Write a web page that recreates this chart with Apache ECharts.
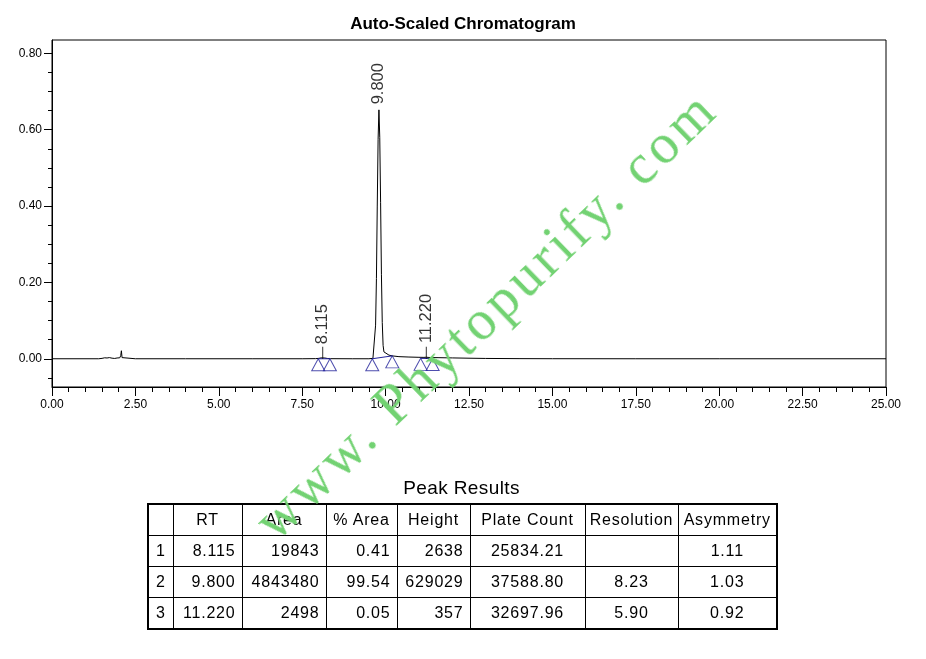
<!DOCTYPE html>
<html>
<head>
<meta charset="utf-8">
<script src="https://cdn.jsdelivr.net/npm/echarts@6/dist/echarts.min.js"></script>
<style>
  html, body { margin: 0; padding: 0; background: #fff; }
  #wrap { position: relative; width: 926px; height: 659px; overflow: hidden; }
  #chart { position: absolute; left: 0; top: 0; width: 926px; height: 659px; }
  #tblTitle { position: absolute; left: 147px; width: 629px; top: 477px; text-align: center;
    font-family: 'Liberation Sans', Arial, sans-serif; font-size: 19px; letter-spacing: 0.4px; color: #000; }
  #tbl { position: absolute; left: 147px; top: 503px; border-collapse: collapse; table-layout: fixed;
    border: 2px solid #000; font-family: 'Liberation Sans', Arial, sans-serif; font-size: 16px;
    letter-spacing: 0.8px; color: #000; }
  #tbl td { border: 1px solid #000; height: 30px; padding: 0 6px; white-space: nowrap; overflow: hidden; }
  #tbl td.c { text-align: center; padding: 0 2px; }
  #tbl td.r { text-align: right; }
  #wm { position: absolute; left: 485px; top: 314px; transform: translate(-50%, -50%) rotate(-44deg);
    white-space: nowrap; font-family: 'Liberation Serif', 'Times New Roman', serif; font-size: 56px;
    letter-spacing: 4px; color: #72d272; pointer-events: none; }
</style>
</head>
<body>
<div id="wrap">
  <div id="chart"></div>
  <div id="tblTitle"></div>
  <table id="tbl"></table>
  <div id="wm">www. Phytopurify. com</div>
</div>
<script>
// ---- chromatogram trace (time in min, signal in AU) ----
var traceTime = [0, 1.40, 1.50, 1.58, 1.65, 1.72, 1.80, 1.88, 1.95, 2.03, 2.06, 2.08, 2.10, 2.13, 2.5, 4, 6, 7.5,
  7.9, 8.0, 8.06, 8.115, 8.17, 8.25, 8.35, 9.0, 9.5, 9.62, 9.65, 9.70, 9.725, 9.75, 9.775, 9.80, 9.825, 9.85,
  9.875, 9.90, 9.925, 9.95, 10.0, 10.1, 10.2, 10.4, 10.7, 11.0, 11.15, 11.22, 11.3, 11.6, 12.0, 12.5, 13.0,
  14.0, 15.0, 17.5, 20, 25];
var traceSignal = [0, 0, 0.001, 0.0025, 0.002, 0.003, 0.0015, 0.0008, 0.002, 0.0025, 0.008, 0.021, 0.003, 0, 0, 0, 0, 0,
  0.0003, 0.001, 0.0022, 0.0027, 0.0021, 0.0008, 0.0002, 0, 0, 0.001, 0.006, 0.088, 0.21, 0.40, 0.575, 0.652, 0.58, 0.41,
  0.22, 0.095, 0.035, 0.018, 0.013, 0.0095, 0.0075, 0.0055, 0.0045, 0.0038, 0.0036, 0.004, 0.0034, 0.0028, 0.0022, 0.0014, 0.0008,
  0.0003, 0.0001, 0, 0, 0];

// ---- peak integration marks ----
var peakStartTime = [7.98, 9.60, 11.05];
var peakStartSignal = [0, 0, 0.001];
var peakEndTime = [8.33, 10.20, 11.41];
var peakEndSignal = [0, 0.0075, 0.0005];

// ---- peak labels ----
var peakRT = [8.115, 9.800, 11.220];
var peakApex = [0.0027, 0.652, 0.0004];
var peakLabelText = ['8.115', '9.800', '11.220'];
var peakLabelGap = [13, 5, 15];

// ---- axis ticks ----
var yMajorTicks = [0, 0.2, 0.4, 0.6, 0.8];
var yMinorTicks = [-0.05, 0.05, 0.10, 0.15, 0.25, 0.30, 0.35, 0.45, 0.50, 0.55, 0.65, 0.70, 0.75];
var xMin = 0, xMax = 25, xStep = 2.5;
var yMin = -0.074, yMax = 0.835;

// ---- peak results table ----
var tableHeader = ['', 'RT', 'Area', '% Area', 'Height', 'Plate Count', 'Resolution', 'Asymmetry'];
var tableIndex = ['1', '2', '3'];
var tableRT = ['8.115', '9.800', '11.220'];
var tableArea = ['19843', '4843480', '2498'];
var tablePctArea = ['0.41', '99.54', '0.05'];
var tableHeight = ['2638', '629029', '357'];
var tablePlate = ['25834.21', '37588.80', '32697.96'];
var tableResolution = ['', '8.23', '5.90'];
var tableAsym = ['1.11', '1.03', '0.92'];
var tableColWidths = [25, 69, 84, 71, 73, 115, 93, 99];
var tableColAlign = ['c', 'r', 'r', 'r', 'r', 'c', 'c', 'c'];

// build table
(function () {
  document.getElementById('tblTitle').textContent = 'Peak Results';
  var t = document.getElementById('tbl');
  var cg = document.createElement('colgroup');
  tableColWidths.forEach(function (w) { var c = document.createElement('col'); c.style.width = w + 'px'; cg.appendChild(c); });
  t.appendChild(cg);
  var hr = document.createElement('tr');
  tableHeader.forEach(function (h) { var td = document.createElement('td'); td.className = 'c'; td.textContent = h; hr.appendChild(td); });
  t.appendChild(hr);
  for (var i = 0; i < tableIndex.length; i++) {
    var row = [tableIndex[i], tableRT[i], tableArea[i], tablePctArea[i], tableHeight[i], tablePlate[i], tableResolution[i], tableAsym[i]];
    var tr = document.createElement('tr');
    row.forEach(function (v, j) { var td = document.createElement('td'); td.className = tableColAlign[j]; td.textContent = v; tr.appendChild(td); });
    t.appendChild(tr);
  }
})();

var traceData = traceTime.map(function (t, i) { return [t, traceSignal[i]]; });
var baselineData = [];
var triangleData = [];
for (var i = 0; i < peakStartTime.length; i++) {
  baselineData.push([peakStartTime[i], peakStartSignal[i]]);
  baselineData.push([peakEndTime[i], peakEndSignal[i]]);
  baselineData.push(['-', '-']);
  triangleData.push([peakStartTime[i], peakStartSignal[i]]);
  triangleData.push([peakEndTime[i], peakEndSignal[i]]);
}
var labelData = peakRT.map(function (t, i) {
  return { value: [t, peakApex[i]], label: { distance: peakLabelGap[i], formatter: peakLabelText[i] } };
});
var tickData = [];
peakRT.forEach(function (t, i) { if (peakApex[i] < 0.05) tickData.push([t, 0]); });

var font = 'Liberation Sans';
var chart = echarts.init(document.getElementById('chart'), null, { renderer: 'canvas' });
chart.setOption({
  animation: false,
  backgroundColor: '#fff',
  title: {
    text: 'Auto-Scaled Chromatogram', left: 'center', top: 11,
    textStyle: { fontFamily: font, fontSize: 17, fontWeight: 'bold', color: '#000' }
  },
  grid: { left: 52, right: 40, top: 40, bottom: 272, show: true, borderColor: '#000', borderWidth: 1, backgroundColor: 'transparent' },
  xAxis: {
    type: 'value', min: xMin, max: xMax, interval: xStep,
    axisLine: { show: true, onZero: false, lineStyle: { color: '#000', width: 1 } },
    axisTick: { show: true, inside: false, length: 9, lineStyle: { color: '#000' } },
    minorTick: { show: true, splitNumber: 5, length: 5, lineStyle: { color: '#000' } },
    splitLine: { show: false },
    axisLabel: { margin: 12, color: '#000', fontFamily: font, fontSize: 12, formatter: function (v) { return v.toFixed(2); } }
  },
  yAxis: [{
    type: 'value', min: yMin, max: yMax,
    axisLine: { show: true, onZero: false, lineStyle: { color: '#000', width: 1 } },
    axisTick: { show: true, length: 8, customValues: yMajorTicks, lineStyle: { color: '#000' } },
    splitLine: { show: false },
    axisLabel: { margin: 10, color: '#000', fontFamily: font, fontSize: 12, customValues: yMajorTicks,
      formatter: function (v) { return v.toFixed(2); } }
  }, {
    type: 'value', min: yMin, max: yMax, position: 'left',
    axisLine: { show: false },
    axisTick: { show: true, length: 4, customValues: yMinorTicks, lineStyle: { color: '#000' } },
    splitLine: { show: false },
    axisLabel: { show: false }
  }],
  series: [
    { type: 'line', data: traceData, symbol: 'none', lineStyle: { color: '#000', width: 1 }, z: 3 },
    { type: 'line', data: baselineData, symbol: 'none', connectNulls: false, lineStyle: { color: '#22229a', width: 1 }, z: 4 },
    { type: 'scatter', data: triangleData, symbol: 'triangle', symbolSize: [13, 12], symbolOffset: [0, 6],
      itemStyle: { color: 'rgba(255,255,255,0)', borderColor: '#22229a', borderWidth: 1 }, z: 5 },
    { type: 'scatter', data: tickData, symbol: 'rect', symbolSize: [1, 12], symbolOffset: [0, -6],
      itemStyle: { color: '#000' }, z: 5 },
    { type: 'scatter', data: labelData, symbolSize: 1, itemStyle: { color: 'rgba(0,0,0,0)' }, z: 6,
      label: { show: true, position: 'top', rotate: 90, align: 'left', verticalAlign: 'middle',
        color: '#000', fontFamily: font, fontSize: 16.5 } }
  ]
});
</script>
</body>
</html>
